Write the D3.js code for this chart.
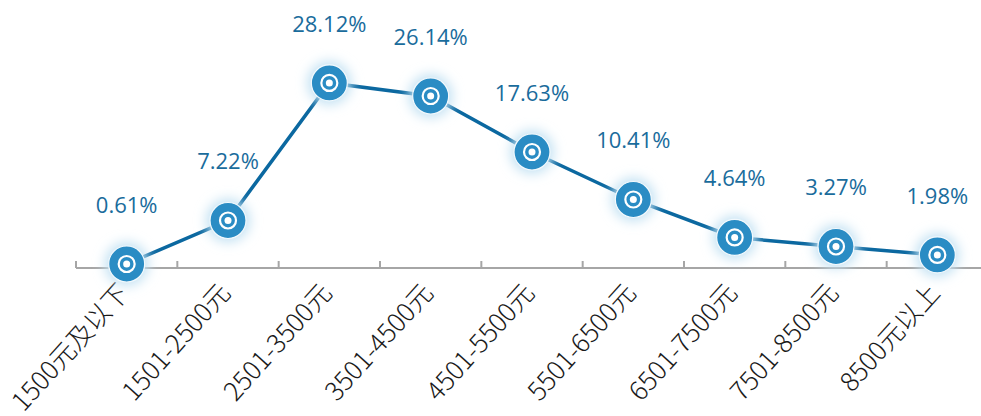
<!DOCTYPE html>
<html>
<head>
<meta charset="utf-8">
<script src="https://cdn.jsdelivr.net/npm/d3@7"></script>
<style>
  body { margin: 0; background: #fff; }
  svg { display: block; }
</style>
</head>
<body>
<div id="chart"></div>
<script>
// Salary brackets and share of respondents (%)
const categories = ["1500元及以下", "1501-2500元", "2501-3500元", "3501-4500元", "4501-5500元",
                    "5501-6500元", "6501-7500元", "7501-8500元", "8500元以上"];
const shares = [0.61, 7.22, 28.12, 26.14, 17.63, 10.41, 4.64, 3.27, 1.98];
const shareLabels = ["0.61%", "7.22%", "28.12%", "26.14%", "17.63%", "10.41%", "4.64%", "3.27%", "1.98%"];

const data = categories.map((c, i) => ({ cat: c, value: shares[i], label: shareLabels[i] }));

const width = 981, height = 416;
const axisY = 268;

const svg = d3.select("#chart")
    .append("svg")
    .attr("width", width)
    .attr("height", height);

// Glow filter for the markers
const defs = svg.append("defs");
const glow = defs.append("filter")
    .attr("id", "glow")
    .attr("x", "-100%").attr("y", "-100%")
    .attr("width", "300%").attr("height", "300%");
glow.append("feGaussianBlur").attr("stdDeviation", 6);

const x = d3.scaleBand()
    .domain(categories)
    .range([76, 988]);

const y = d3.scaleLinear()
    .domain([0, 30])
    .range([axisY, axisY - 30 * 6.58]);

// x axis with upward ticks at band edges
const axis = svg.append("g").attr("class", "x-axis");
axis.append("line")
    .attr("x1", 76).attr("x2", width)
    .attr("y1", axisY).attr("y2", axisY)
    .attr("stroke", "#a6a6a6")
    .attr("stroke-width", 2);
const edges = categories.map(c => x(c)).concat([x.range()[1]]);
axis.selectAll(".tick")
    .data(edges)
    .enter()
    .append("line")
    .attr("class", "tick")
    .attr("x1", d => d).attr("x2", d => d)
    .attr("y1", axisY).attr("y2", axisY - 7)
    .attr("stroke", "#a6a6a6")
    .attr("stroke-width", 2);

// category labels, rotated
axis.selectAll(".cat")
    .data(data)
    .enter()
    .append("text")
    .attr("class", "cat")
    .attr("transform", d => `translate(${x(d.cat) + x.bandwidth() / 2 + 4},${axisY + 26}) rotate(-48)`)
    .attr("text-anchor", "end")
    .attr("font-family", "'Noto Sans CJK SC', 'Open Sans', sans-serif")
    .attr("font-weight", 300)
    .attr("font-size", "26px")
    .attr("fill", "#1a1a1a")
    .text(d => d.cat);

const cx = d => x(d.cat) + x.bandwidth() / 2;

// line
const line = d3.line()
    .x(cx)
    .y(d => y(d.value));

svg.append("path")
    .datum(data)
    .attr("fill", "none")
    .attr("stroke", "#0b68a0")
    .attr("stroke-width", 3.5)
    .attr("d", line);

// markers
const markers = svg.selectAll(".marker")
    .data(data)
    .enter()
    .append("g")
    .attr("class", "marker")
    .attr("transform", d => `translate(${cx(d)},${y(d.value)})`);

markers.append("circle")
    .attr("r", 22)
    .attr("fill", "#c4e2f3")
    .attr("filter", "url(#glow)");
markers.append("circle")
    .attr("r", 18)
    .attr("fill", "#2a8cc4")
    .attr("stroke", "#f2f9fd")
    .attr("stroke-width", 1.2);
markers.append("circle")
    .attr("r", 8)
    .attr("fill", "none")
    .attr("stroke", "#ffffff")
    .attr("stroke-width", 2.2);
markers.append("circle")
    .attr("r", 3.5)
    .attr("fill", "#ffffff");

// value labels
svg.selectAll(".val")
    .data(data)
    .enter()
    .append("text")
    .attr("class", "val")
    .attr("x", cx)
    .attr("y", d => y(d.value) - 59)
    .attr("dy", "0.35em")
    .attr("text-anchor", "middle")
    .attr("font-family", "'Open Sans', sans-serif")
    .attr("font-size", "22px")
    .attr("fill", "#1a6c9c")
    .text(d => d.label);
</script>
</body>
</html>
